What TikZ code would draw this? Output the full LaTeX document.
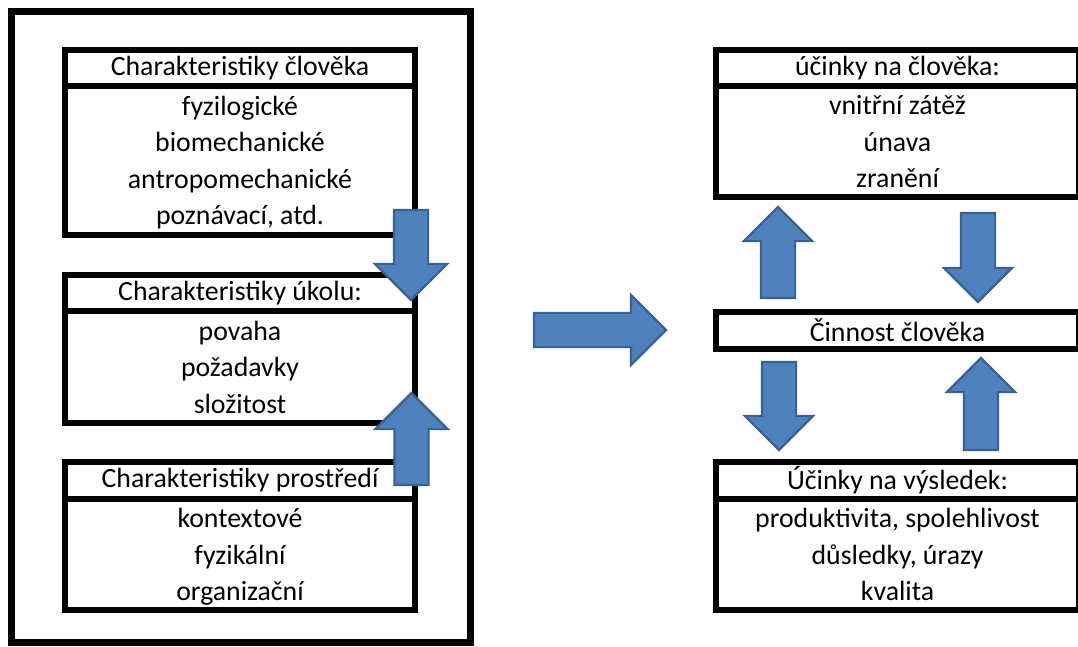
\documentclass[tikz,border=0pt]{standalone}
\usepackage{fontspec}
\setmainfont{Carlito}
\usetikzlibrary{positioning, shapes.arrows}
\definecolor{arrowfill}{HTML}{4F81BD}
\definecolor{arrowline}{HTML}{3A6190}

\begin{document}
\begin{tikzpicture}[
    x=1pt, y=1pt, node distance=40pt,
    every node/.style={align=center, font=\fontsize{27.8}{36.5}\selectfont},
    headbox/.style={draw, line width=6.5pt, inner sep=0pt, outer sep=0pt, minimum height=36pt},
    bodybox/.style={draw, line width=6.5pt, inner sep=0pt, outer sep=0pt, text depth=0pt},
    blockarrow/.style={single arrow, draw=arrowline, fill=arrowfill, line width=2.2pt, inner xsep=0pt, inner ysep=16pt, outer sep=0pt, minimum width=0pt, single arrow head extend=17pt}
]
\useasboundingbox (0,0) rectangle (1078,646);
\node (left_frame) [draw, line width=7pt, minimum width=459pt, minimum height=630pt] at (240.5,319) {};

\node (human_head) [headbox, minimum width=350pt, anchor=north] at (240,596) {Charakteristiky člověka};
\node (human_body) [bodybox, minimum width=350pt, minimum height=149pt, below=0pt of human_head] {fyzilogické\\biomechanické\\antropomechanické\\poznávací, atd.};
\node (task_head) [headbox, minimum width=350pt, below=40pt of human_body] {Charakteristiky úkolu:};
\node (task_body) [bodybox, minimum width=350pt, minimum height=112pt, below=0pt of task_head] {povaha\\požadavky\\složitost};
\node (env_head) [headbox, minimum width=350pt, minimum height=37pt, below=39pt of task_body] {Charakteristiky prostředí};
\node (env_body) [bodybox, minimum width=350pt, minimum height=111pt, below=0pt of env_head] {kontextové\\fyzikální\\organizační};

\node (effect_head) [headbox, minimum width=363pt, anchor=north] at (897.5,596) {účinky na člověka:};
\node (effect_body) [bodybox, minimum width=363pt, minimum height=111pt, below=0pt of effect_head] {vnitřní zátěž\\únava\\zranění};
\node (activity) [headbox, minimum width=363pt, minimum height=37pt, below=115pt of effect_body] {Činnost člověka};
\node (result_head) [headbox, minimum width=363pt, minimum height=37pt, below=113pt of activity] {Účinky na výsledek:};
\node (result_body) [bodybox, minimum width=363pt, minimum height=111pt, below=0pt of result_head] {produktivita, spolehlivost\\důsledky, úrazy\\kvalita};

\node (arrow_human_task) [blockarrow, minimum height=90pt, single arrow head extend=19pt, rotate=-90, anchor=tip] at (411,346) {};
\node (arrow_env_task) [blockarrow, minimum height=92pt, single arrow head extend=19pt, rotate=90, anchor=tip] at (411.5,253) {};
\node (arrow_main) [blockarrow, minimum height=132pt, single arrow head extend=18pt, anchor=tip] at (666,316) {};
\node (arrow_to_effect) [blockarrow, minimum height=91pt, rotate=90, anchor=tip] at (778,439) {};
\node (arrow_from_effect) [blockarrow, minimum height=89pt, rotate=-90, anchor=tip] at (978,344) {};
\node (arrow_to_result) [blockarrow, minimum height=88pt, rotate=-90, anchor=tip] at (779,196) {};
\node (arrow_from_result) [blockarrow, minimum height=92pt, rotate=90, anchor=tip] at (981,288) {};
\end{tikzpicture}
\end{document}
